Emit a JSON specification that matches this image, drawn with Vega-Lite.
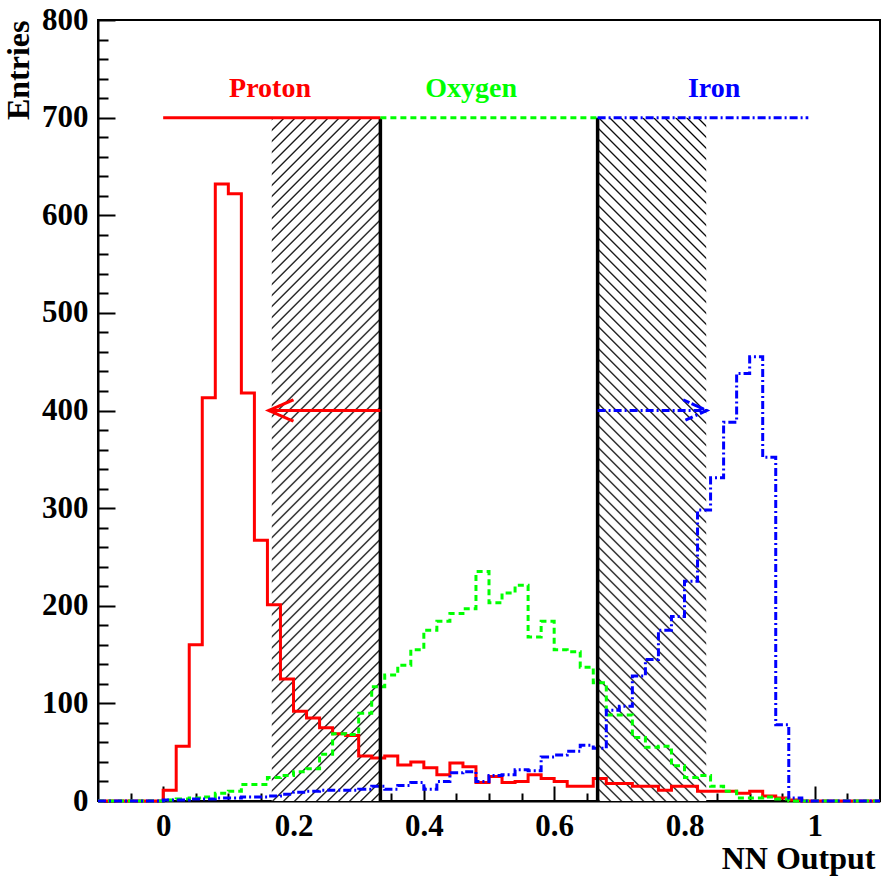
{
"$schema": "https://vega.github.io/schema/vega-lite/v6.json",
"width": 782, "height": 781,
"autosize": "none",
"padding": {"left": 98, "top": 20, "right": 3, "bottom": 79},
"background": "white",
"config": {"view": {"stroke": "black", "strokeWidth": 2}, "axis": {"grid": false, "zindex": 1}},
"resolve": {"axis": {"x": "independent", "y": "independent"}},
"datasets": {
"hist": [
{"x":-0.1,"proton":0,"oxygen":0,"iron":0},{"x":-0.08,"proton":0,"oxygen":0,"iron":0},{"x":-0.06,"proton":0,"oxygen":0,"iron":0},{"x":-0.04,"proton":0,"oxygen":0,"iron":0},{"x":-0.02,"proton":0,"oxygen":0,"iron":0},
{"x":0,"proton":11,"oxygen":1,"iron":1},{"x":0.02,"proton":56,"oxygen":2,"iron":1},{"x":0.04,"proton":160,"oxygen":3,"iron":2},{"x":0.06,"proton":413,"oxygen":4,"iron":2},{"x":0.08,"proton":632,"oxygen":8,"iron":3},
{"x":0.1,"proton":622,"oxygen":10,"iron":3},{"x":0.12,"proton":418,"oxygen":17,"iron":4},{"x":0.14,"proton":267,"oxygen":17,"iron":4},{"x":0.16,"proton":201,"oxygen":24,"iron":5},{"x":0.18,"proton":125,"oxygen":26,"iron":7},
{"x":0.2,"proton":92,"oxygen":30,"iron":9},{"x":0.22,"proton":85,"oxygen":33,"iron":10},{"x":0.24,"proton":75,"oxygen":48,"iron":11},{"x":0.26,"proton":69,"oxygen":69,"iron":11},{"x":0.28,"proton":67,"oxygen":68,"iron":11},
{"x":0.3,"proton":46,"oxygen":90,"iron":12},{"x":0.32,"proton":44,"oxygen":117,"iron":15},{"x":0.34,"proton":46,"oxygen":129,"iron":12},{"x":0.36,"proton":37,"oxygen":139,"iron":16},{"x":0.38,"proton":40,"oxygen":155,"iron":19},
{"x":0.4,"proton":34,"oxygen":175,"iron":12},{"x":0.42,"proton":27,"oxygen":184,"iron":20},{"x":0.44,"proton":39,"oxygen":192,"iron":29},{"x":0.46,"proton":35,"oxygen":197,"iron":30},{"x":0.48,"proton":19,"oxygen":235,"iron":20},
{"x":0.5,"proton":25,"oxygen":203,"iron":26},{"x":0.52,"proton":19,"oxygen":213,"iron":27},{"x":0.54,"proton":20,"oxygen":221,"iron":32},{"x":0.56,"proton":27,"oxygen":168,"iron":31},{"x":0.58,"proton":23,"oxygen":184,"iron":45},
{"x":0.6,"proton":20,"oxygen":155,"iron":47},{"x":0.62,"proton":15,"oxygen":153,"iron":51},{"x":0.64,"proton":15,"oxygen":137,"iron":57},{"x":0.66,"proton":23,"oxygen":121,"iron":54},{"x":0.68,"proton":18,"oxygen":88,"iron":93},
{"x":0.7,"proton":18,"oxygen":88,"iron":97},{"x":0.72,"proton":15,"oxygen":65,"iron":128},{"x":0.74,"proton":15,"oxygen":55,"iron":145},{"x":0.76,"proton":11,"oxygen":56,"iron":175},{"x":0.78,"proton":15,"oxygen":36,"iron":189},
{"x":0.8,"proton":15,"oxygen":24,"iron":225},{"x":0.82,"proton":10,"oxygen":26,"iron":298},{"x":0.84,"proton":10,"oxygen":15,"iron":331},{"x":0.86,"proton":10,"oxygen":10,"iron":388},{"x":0.88,"proton":8,"oxygen":3,"iron":438},
{"x":0.9,"proton":10,"oxygen":3,"iron":455},{"x":0.92,"proton":5,"oxygen":4,"iron":352},{"x":0.94,"proton":3,"oxygen":2,"iron":78},{"x":0.96,"proton":1,"oxygen":0,"iron":3},{"x":0.98,"proton":0,"oxygen":0,"iron":0},
{"x":1.0,"proton":0,"oxygen":0,"iron":0},{"x":1.02,"proton":0,"oxygen":0,"iron":0},{"x":1.04,"proton":0,"oxygen":0,"iron":0},{"x":1.06,"proton":0,"oxygen":0,"iron":0},{"x":1.08,"proton":0,"oxygen":0,"iron":0},{"x":1.1,"proton":0,"oxygen":0,"iron":0}
],
"hatchL": [{"x":0.16667,"x2":0.33333,"y":0,"y2":700}],
"hatchR": [{"x":0.66667,"x2":0.83333,"y":0,"y2":700}],
"cuts": [{"x":0.33333,"y":0,"y2":700},{"x":0.66667,"y":0,"y2":700}],
"tops": [{"s":"Proton","x":0,"x2":0.33333,"y":700},{"s":"Oxygen","x":0.33333,"x2":0.66667,"y":700},{"s":"Iron","x":0.66667,"x2":0.99,"y":700}],
"arrows": [
{"s":"Proton","o":1,"x":0.33333,"y":400},{"s":"Proton","o":2,"x":0.162,"y":400},{"s":"Proton","o":3,"x":0.2,"y":411},{"s":"Proton","o":4,"x":0.162,"y":400},{"s":"Proton","o":5,"x":0.2,"y":389},
{"s":"Iron","o":1,"x":0.66667,"y":400},{"s":"Iron","o":2,"x":0.834,"y":400},{"s":"Iron","o":3,"x":0.798,"y":411},{"s":"Iron","o":4,"x":0.834,"y":400},{"s":"Iron","o":5,"x":0.798,"y":389}
],
"labels": [{"s":"Proton","x":0.164,"y":721},{"s":"Oxygen","x":0.4726,"y":721},{"s":"Iron","x":0.8455,"y":721}]
},
"layer": [
{"data": {"name": "hatchL"},
 "mark": {"type": "rect", "strokeWidth": 0, "fill": {"gradient": "linear", "x1": 0, "y1": 0, "x2": 0.1796, "y2": 1.1304, "stops": [
{"offset":0,"color":"#fff"},{"offset":0.0022,"color":"#000"},{"offset":0.0044,"color":"#fff"},
{"offset":0.0139,"color":"#fff"},{"offset":0.0161,"color":"#000"},{"offset":0.0183,"color":"#fff"},
{"offset":0.0278,"color":"#fff"},{"offset":0.03,"color":"#000"},{"offset":0.0322,"color":"#fff"},
{"offset":0.0417,"color":"#fff"},{"offset":0.0439,"color":"#000"},{"offset":0.0461,"color":"#fff"},
{"offset":0.0556,"color":"#fff"},{"offset":0.0578,"color":"#000"},{"offset":0.06,"color":"#fff"},
{"offset":0.0695,"color":"#fff"},{"offset":0.0717,"color":"#000"},{"offset":0.0739,"color":"#fff"},
{"offset":0.0834,"color":"#fff"},{"offset":0.0856,"color":"#000"},{"offset":0.0878,"color":"#fff"},
{"offset":0.0973,"color":"#fff"},{"offset":0.0995,"color":"#000"},{"offset":0.1017,"color":"#fff"},
{"offset":0.1112,"color":"#fff"},{"offset":0.1134,"color":"#000"},{"offset":0.1156,"color":"#fff"},
{"offset":0.1251,"color":"#fff"},{"offset":0.1273,"color":"#000"},{"offset":0.1295,"color":"#fff"},
{"offset":0.139,"color":"#fff"},{"offset":0.1412,"color":"#000"},{"offset":0.1434,"color":"#fff"},
{"offset":0.1529,"color":"#fff"},{"offset":0.1551,"color":"#000"},{"offset":0.1573,"color":"#fff"},
{"offset":0.1668,"color":"#fff"},{"offset":0.169,"color":"#000"},{"offset":0.1712,"color":"#fff"},
{"offset":0.1807,"color":"#fff"},{"offset":0.1829,"color":"#000"},{"offset":0.1851,"color":"#fff"},
{"offset":0.1946,"color":"#fff"},{"offset":0.1968,"color":"#000"},{"offset":0.199,"color":"#fff"},
{"offset":0.2085,"color":"#fff"},{"offset":0.2107,"color":"#000"},{"offset":0.2129,"color":"#fff"},
{"offset":0.2224,"color":"#fff"},{"offset":0.2246,"color":"#000"},{"offset":0.2268,"color":"#fff"},
{"offset":0.2363,"color":"#fff"},{"offset":0.2385,"color":"#000"},{"offset":0.2407,"color":"#fff"},
{"offset":0.2502,"color":"#fff"},{"offset":0.2524,"color":"#000"},{"offset":0.2546,"color":"#fff"},
{"offset":0.2641,"color":"#fff"},{"offset":0.2663,"color":"#000"},{"offset":0.2685,"color":"#fff"},
{"offset":0.278,"color":"#fff"},{"offset":0.2802,"color":"#000"},{"offset":0.2824,"color":"#fff"},
{"offset":0.2919,"color":"#fff"},{"offset":0.2941,"color":"#000"},{"offset":0.2963,"color":"#fff"},
{"offset":0.3058,"color":"#fff"},{"offset":0.308,"color":"#000"},{"offset":0.3102,"color":"#fff"},
{"offset":0.3197,"color":"#fff"},{"offset":0.3219,"color":"#000"},{"offset":0.3241,"color":"#fff"},
{"offset":0.3336,"color":"#fff"},{"offset":0.3358,"color":"#000"},{"offset":0.338,"color":"#fff"},
{"offset":0.3475,"color":"#fff"},{"offset":0.3497,"color":"#000"},{"offset":0.3519,"color":"#fff"},
{"offset":0.3614,"color":"#fff"},{"offset":0.3636,"color":"#000"},{"offset":0.3658,"color":"#fff"},
{"offset":0.3753,"color":"#fff"},{"offset":0.3775,"color":"#000"},{"offset":0.3797,"color":"#fff"},
{"offset":0.3892,"color":"#fff"},{"offset":0.3914,"color":"#000"},{"offset":0.3936,"color":"#fff"},
{"offset":0.4031,"color":"#fff"},{"offset":0.4053,"color":"#000"},{"offset":0.4075,"color":"#fff"},
{"offset":0.417,"color":"#fff"},{"offset":0.4192,"color":"#000"},{"offset":0.4214,"color":"#fff"},
{"offset":0.4309,"color":"#fff"},{"offset":0.4331,"color":"#000"},{"offset":0.4353,"color":"#fff"},
{"offset":0.4448,"color":"#fff"},{"offset":0.447,"color":"#000"},{"offset":0.4492,"color":"#fff"},
{"offset":0.4587,"color":"#fff"},{"offset":0.4609,"color":"#000"},{"offset":0.4631,"color":"#fff"},
{"offset":0.4726,"color":"#fff"},{"offset":0.4748,"color":"#000"},{"offset":0.477,"color":"#fff"},
{"offset":0.4865,"color":"#fff"},{"offset":0.4887,"color":"#000"},{"offset":0.4909,"color":"#fff"},
{"offset":0.5004,"color":"#fff"},{"offset":0.5026,"color":"#000"},{"offset":0.5048,"color":"#fff"},
{"offset":0.5143,"color":"#fff"},{"offset":0.5165,"color":"#000"},{"offset":0.5187,"color":"#fff"},
{"offset":0.5282,"color":"#fff"},{"offset":0.5304,"color":"#000"},{"offset":0.5326,"color":"#fff"},
{"offset":0.5421,"color":"#fff"},{"offset":0.5443,"color":"#000"},{"offset":0.5465,"color":"#fff"},
{"offset":0.556,"color":"#fff"},{"offset":0.5582,"color":"#000"},{"offset":0.5604,"color":"#fff"},
{"offset":0.5699,"color":"#fff"},{"offset":0.5721,"color":"#000"},{"offset":0.5743,"color":"#fff"},
{"offset":0.5838,"color":"#fff"},{"offset":0.586,"color":"#000"},{"offset":0.5882,"color":"#fff"},
{"offset":0.5977,"color":"#fff"},{"offset":0.5999,"color":"#000"},{"offset":0.6021,"color":"#fff"},
{"offset":0.6116,"color":"#fff"},{"offset":0.6138,"color":"#000"},{"offset":0.616,"color":"#fff"},
{"offset":0.6255,"color":"#fff"},{"offset":0.6277,"color":"#000"},{"offset":0.6299,"color":"#fff"},
{"offset":0.6394,"color":"#fff"},{"offset":0.6416,"color":"#000"},{"offset":0.6438,"color":"#fff"},
{"offset":0.6533,"color":"#fff"},{"offset":0.6555,"color":"#000"},{"offset":0.6577,"color":"#fff"},
{"offset":0.6672,"color":"#fff"},{"offset":0.6694,"color":"#000"},{"offset":0.6716,"color":"#fff"},
{"offset":0.6811,"color":"#fff"},{"offset":0.6833,"color":"#000"},{"offset":0.6855,"color":"#fff"},
{"offset":0.695,"color":"#fff"},{"offset":0.6972,"color":"#000"},{"offset":0.6994,"color":"#fff"},
{"offset":0.7089,"color":"#fff"},{"offset":0.7111,"color":"#000"},{"offset":0.7133,"color":"#fff"},
{"offset":0.7228,"color":"#fff"},{"offset":0.725,"color":"#000"},{"offset":0.7272,"color":"#fff"},
{"offset":0.7367,"color":"#fff"},{"offset":0.7389,"color":"#000"},{"offset":0.7411,"color":"#fff"},
{"offset":0.7506,"color":"#fff"},{"offset":0.7528,"color":"#000"},{"offset":0.755,"color":"#fff"},
{"offset":0.7645,"color":"#fff"},{"offset":0.7667,"color":"#000"},{"offset":0.7689,"color":"#fff"},
{"offset":0.7784,"color":"#fff"},{"offset":0.7806,"color":"#000"},{"offset":0.7828,"color":"#fff"},
{"offset":0.7923,"color":"#fff"},{"offset":0.7945,"color":"#000"},{"offset":0.7967,"color":"#fff"},
{"offset":0.8062,"color":"#fff"},{"offset":0.8084,"color":"#000"},{"offset":0.8106,"color":"#fff"},
{"offset":0.8201,"color":"#fff"},{"offset":0.8223,"color":"#000"},{"offset":0.8245,"color":"#fff"},
{"offset":0.834,"color":"#fff"},{"offset":0.8362,"color":"#000"},{"offset":0.8384,"color":"#fff"},
{"offset":0.8479,"color":"#fff"},{"offset":0.8501,"color":"#000"},{"offset":0.8523,"color":"#fff"},
{"offset":0.8618,"color":"#fff"},{"offset":0.864,"color":"#000"},{"offset":0.8662,"color":"#fff"},
{"offset":0.8757,"color":"#fff"},{"offset":0.8779,"color":"#000"},{"offset":0.8801,"color":"#fff"},
{"offset":0.8896,"color":"#fff"},{"offset":0.8918,"color":"#000"},{"offset":0.894,"color":"#fff"},
{"offset":0.9035,"color":"#fff"},{"offset":0.9057,"color":"#000"},{"offset":0.9079,"color":"#fff"},
{"offset":0.9174,"color":"#fff"},{"offset":0.9196,"color":"#000"},{"offset":0.9218,"color":"#fff"},
{"offset":0.9313,"color":"#fff"},{"offset":0.9335,"color":"#000"},{"offset":0.9357,"color":"#fff"},
{"offset":0.9452,"color":"#fff"},{"offset":0.9474,"color":"#000"},{"offset":0.9496,"color":"#fff"},
{"offset":0.9591,"color":"#fff"},{"offset":0.9613,"color":"#000"},{"offset":0.9635,"color":"#fff"},
{"offset":0.973,"color":"#fff"},{"offset":0.9752,"color":"#000"},{"offset":0.9774,"color":"#fff"},
{"offset":0.9869,"color":"#fff"},{"offset":0.9891,"color":"#000"},{"offset":0.9913,"color":"#fff"}
]}},
 "encoding": {
  "x": {"field": "x", "type": "quantitative", "scale": {"domain": [-0.1, 1.1], "nice": false, "zero": false},
   "axis": {"orient": "bottom", "values": [0, 0.2, 0.4, 0.6, 0.8, 1], "format": "~g", "ticks": false, "tickSize": 0, "domain": true, "domainColor": "black", "domainWidth": 2,
    "labelFont": "Liberation Serif", "labelFontWeight": "bold", "labelFontSize": 31, "labelColor": "black", "labelBaseline": "alphabetic", "labelPadding": 34, "labelFlush": false, "labelOverlap": false,
    "title": "NN Output", "titleFont": "Liberation Serif", "titleFontWeight": "bold", "titleFontSize": 32, "titleColor": "black", "titleAnchor": "end", "titleAlign": "right", "titleBaseline": "alphabetic", "titleX": 777, "titleY": 67}},
  "x2": {"field": "x2"},
  "y": {"field": "y", "type": "quantitative", "scale": {"domain": [0, 800], "nice": false},
   "axis": {"orient": "left", "values": [0, 100, 200, 300, 400, 500, 600, 700, 800], "ticks": false, "tickSize": 0, "domain": true, "domainColor": "black", "domainWidth": 2,
    "labelFont": "Liberation Serif", "labelFontWeight": "bold", "labelFontSize": 31, "labelColor": "black", "labelAlign": "right", "labelBaseline": "middle", "labelPadding": 10, "labelFlush": false, "labelOverlap": false,
    "title": "Entries", "titleFont": "Liberation Serif", "titleFontWeight": "bold", "titleFontSize": 32, "titleColor": "black", "titleAngle": 270, "titleAlign": "right", "titleBaseline": "middle", "titleX": -80, "titleY": 0}},
  "y2": {"field": "y2"}
 }
},
{"data": {"name": "hatchR"},
 "mark": {"type": "rect", "strokeWidth": 0, "fill": {"gradient": "linear", "x1": 0, "y1": 1, "x2": 0.1796, "y2": -0.1304, "stops": [
{"offset":0,"color":"#fff"},{"offset":0.0022,"color":"#000"},{"offset":0.0044,"color":"#fff"},
{"offset":0.0139,"color":"#fff"},{"offset":0.0161,"color":"#000"},{"offset":0.0183,"color":"#fff"},
{"offset":0.0278,"color":"#fff"},{"offset":0.03,"color":"#000"},{"offset":0.0322,"color":"#fff"},
{"offset":0.0417,"color":"#fff"},{"offset":0.0439,"color":"#000"},{"offset":0.0461,"color":"#fff"},
{"offset":0.0556,"color":"#fff"},{"offset":0.0578,"color":"#000"},{"offset":0.06,"color":"#fff"},
{"offset":0.0695,"color":"#fff"},{"offset":0.0717,"color":"#000"},{"offset":0.0739,"color":"#fff"},
{"offset":0.0834,"color":"#fff"},{"offset":0.0856,"color":"#000"},{"offset":0.0878,"color":"#fff"},
{"offset":0.0973,"color":"#fff"},{"offset":0.0995,"color":"#000"},{"offset":0.1017,"color":"#fff"},
{"offset":0.1112,"color":"#fff"},{"offset":0.1134,"color":"#000"},{"offset":0.1156,"color":"#fff"},
{"offset":0.1251,"color":"#fff"},{"offset":0.1273,"color":"#000"},{"offset":0.1295,"color":"#fff"},
{"offset":0.139,"color":"#fff"},{"offset":0.1412,"color":"#000"},{"offset":0.1434,"color":"#fff"},
{"offset":0.1529,"color":"#fff"},{"offset":0.1551,"color":"#000"},{"offset":0.1573,"color":"#fff"},
{"offset":0.1668,"color":"#fff"},{"offset":0.169,"color":"#000"},{"offset":0.1712,"color":"#fff"},
{"offset":0.1807,"color":"#fff"},{"offset":0.1829,"color":"#000"},{"offset":0.1851,"color":"#fff"},
{"offset":0.1946,"color":"#fff"},{"offset":0.1968,"color":"#000"},{"offset":0.199,"color":"#fff"},
{"offset":0.2085,"color":"#fff"},{"offset":0.2107,"color":"#000"},{"offset":0.2129,"color":"#fff"},
{"offset":0.2224,"color":"#fff"},{"offset":0.2246,"color":"#000"},{"offset":0.2268,"color":"#fff"},
{"offset":0.2363,"color":"#fff"},{"offset":0.2385,"color":"#000"},{"offset":0.2407,"color":"#fff"},
{"offset":0.2502,"color":"#fff"},{"offset":0.2524,"color":"#000"},{"offset":0.2546,"color":"#fff"},
{"offset":0.2641,"color":"#fff"},{"offset":0.2663,"color":"#000"},{"offset":0.2685,"color":"#fff"},
{"offset":0.278,"color":"#fff"},{"offset":0.2802,"color":"#000"},{"offset":0.2824,"color":"#fff"},
{"offset":0.2919,"color":"#fff"},{"offset":0.2941,"color":"#000"},{"offset":0.2963,"color":"#fff"},
{"offset":0.3058,"color":"#fff"},{"offset":0.308,"color":"#000"},{"offset":0.3102,"color":"#fff"},
{"offset":0.3197,"color":"#fff"},{"offset":0.3219,"color":"#000"},{"offset":0.3241,"color":"#fff"},
{"offset":0.3336,"color":"#fff"},{"offset":0.3358,"color":"#000"},{"offset":0.338,"color":"#fff"},
{"offset":0.3475,"color":"#fff"},{"offset":0.3497,"color":"#000"},{"offset":0.3519,"color":"#fff"},
{"offset":0.3614,"color":"#fff"},{"offset":0.3636,"color":"#000"},{"offset":0.3658,"color":"#fff"},
{"offset":0.3753,"color":"#fff"},{"offset":0.3775,"color":"#000"},{"offset":0.3797,"color":"#fff"},
{"offset":0.3892,"color":"#fff"},{"offset":0.3914,"color":"#000"},{"offset":0.3936,"color":"#fff"},
{"offset":0.4031,"color":"#fff"},{"offset":0.4053,"color":"#000"},{"offset":0.4075,"color":"#fff"},
{"offset":0.417,"color":"#fff"},{"offset":0.4192,"color":"#000"},{"offset":0.4214,"color":"#fff"},
{"offset":0.4309,"color":"#fff"},{"offset":0.4331,"color":"#000"},{"offset":0.4353,"color":"#fff"},
{"offset":0.4448,"color":"#fff"},{"offset":0.447,"color":"#000"},{"offset":0.4492,"color":"#fff"},
{"offset":0.4587,"color":"#fff"},{"offset":0.4609,"color":"#000"},{"offset":0.4631,"color":"#fff"},
{"offset":0.4726,"color":"#fff"},{"offset":0.4748,"color":"#000"},{"offset":0.477,"color":"#fff"},
{"offset":0.4865,"color":"#fff"},{"offset":0.4887,"color":"#000"},{"offset":0.4909,"color":"#fff"},
{"offset":0.5004,"color":"#fff"},{"offset":0.5026,"color":"#000"},{"offset":0.5048,"color":"#fff"},
{"offset":0.5143,"color":"#fff"},{"offset":0.5165,"color":"#000"},{"offset":0.5187,"color":"#fff"},
{"offset":0.5282,"color":"#fff"},{"offset":0.5304,"color":"#000"},{"offset":0.5326,"color":"#fff"},
{"offset":0.5421,"color":"#fff"},{"offset":0.5443,"color":"#000"},{"offset":0.5465,"color":"#fff"},
{"offset":0.556,"color":"#fff"},{"offset":0.5582,"color":"#000"},{"offset":0.5604,"color":"#fff"},
{"offset":0.5699,"color":"#fff"},{"offset":0.5721,"color":"#000"},{"offset":0.5743,"color":"#fff"},
{"offset":0.5838,"color":"#fff"},{"offset":0.586,"color":"#000"},{"offset":0.5882,"color":"#fff"},
{"offset":0.5977,"color":"#fff"},{"offset":0.5999,"color":"#000"},{"offset":0.6021,"color":"#fff"},
{"offset":0.6116,"color":"#fff"},{"offset":0.6138,"color":"#000"},{"offset":0.616,"color":"#fff"},
{"offset":0.6255,"color":"#fff"},{"offset":0.6277,"color":"#000"},{"offset":0.6299,"color":"#fff"},
{"offset":0.6394,"color":"#fff"},{"offset":0.6416,"color":"#000"},{"offset":0.6438,"color":"#fff"},
{"offset":0.6533,"color":"#fff"},{"offset":0.6555,"color":"#000"},{"offset":0.6577,"color":"#fff"},
{"offset":0.6672,"color":"#fff"},{"offset":0.6694,"color":"#000"},{"offset":0.6716,"color":"#fff"},
{"offset":0.6811,"color":"#fff"},{"offset":0.6833,"color":"#000"},{"offset":0.6855,"color":"#fff"},
{"offset":0.695,"color":"#fff"},{"offset":0.6972,"color":"#000"},{"offset":0.6994,"color":"#fff"},
{"offset":0.7089,"color":"#fff"},{"offset":0.7111,"color":"#000"},{"offset":0.7133,"color":"#fff"},
{"offset":0.7228,"color":"#fff"},{"offset":0.725,"color":"#000"},{"offset":0.7272,"color":"#fff"},
{"offset":0.7367,"color":"#fff"},{"offset":0.7389,"color":"#000"},{"offset":0.7411,"color":"#fff"},
{"offset":0.7506,"color":"#fff"},{"offset":0.7528,"color":"#000"},{"offset":0.755,"color":"#fff"},
{"offset":0.7645,"color":"#fff"},{"offset":0.7667,"color":"#000"},{"offset":0.7689,"color":"#fff"},
{"offset":0.7784,"color":"#fff"},{"offset":0.7806,"color":"#000"},{"offset":0.7828,"color":"#fff"},
{"offset":0.7923,"color":"#fff"},{"offset":0.7945,"color":"#000"},{"offset":0.7967,"color":"#fff"},
{"offset":0.8062,"color":"#fff"},{"offset":0.8084,"color":"#000"},{"offset":0.8106,"color":"#fff"},
{"offset":0.8201,"color":"#fff"},{"offset":0.8223,"color":"#000"},{"offset":0.8245,"color":"#fff"},
{"offset":0.834,"color":"#fff"},{"offset":0.8362,"color":"#000"},{"offset":0.8384,"color":"#fff"},
{"offset":0.8479,"color":"#fff"},{"offset":0.8501,"color":"#000"},{"offset":0.8523,"color":"#fff"},
{"offset":0.8618,"color":"#fff"},{"offset":0.864,"color":"#000"},{"offset":0.8662,"color":"#fff"},
{"offset":0.8757,"color":"#fff"},{"offset":0.8779,"color":"#000"},{"offset":0.8801,"color":"#fff"},
{"offset":0.8896,"color":"#fff"},{"offset":0.8918,"color":"#000"},{"offset":0.894,"color":"#fff"},
{"offset":0.9035,"color":"#fff"},{"offset":0.9057,"color":"#000"},{"offset":0.9079,"color":"#fff"},
{"offset":0.9174,"color":"#fff"},{"offset":0.9196,"color":"#000"},{"offset":0.9218,"color":"#fff"},
{"offset":0.9313,"color":"#fff"},{"offset":0.9335,"color":"#000"},{"offset":0.9357,"color":"#fff"},
{"offset":0.9452,"color":"#fff"},{"offset":0.9474,"color":"#000"},{"offset":0.9496,"color":"#fff"},
{"offset":0.9591,"color":"#fff"},{"offset":0.9613,"color":"#000"},{"offset":0.9635,"color":"#fff"},
{"offset":0.973,"color":"#fff"},{"offset":0.9752,"color":"#000"},{"offset":0.9774,"color":"#fff"},
{"offset":0.9869,"color":"#fff"},{"offset":0.9891,"color":"#000"},{"offset":0.9913,"color":"#fff"}
]}},
 "encoding": {
  "x": {"field": "x", "type": "quantitative", "scale": {"domain": [-0.1, 1.1], "nice": false, "zero": false},
   "axis": {"orient": "top", "offset": -781, "values": [0, 0.2, 0.4, 0.6, 0.8, 1], "labels": false, "domain": false, "ticks": true, "tickSize": 15, "tickWidth": 2, "tickColor": "black", "title": null}},
  "x2": {"field": "x2"},
  "y": {"field": "y", "type": "quantitative", "scale": {"domain": [0, 800], "nice": false},
   "axis": {"orient": "right", "offset": -782, "values": [0, 100, 200, 300, 400, 500, 600, 700, 800], "labels": false, "domain": false, "ticks": true, "tickSize": 17, "tickWidth": 2, "tickColor": "black", "title": null}},
  "y2": {"field": "y2"}
 }
},
{"data": {"name": "hist"},
 "mark": {"type": "line", "interpolate": "step-after", "color": "#ff0000", "strokeWidth": 3},
 "encoding": {
  "x": {"field": "x", "type": "quantitative", "scale": {"domain": [-0.1, 1.1], "nice": false, "zero": false},
   "axis": {"orient": "top", "offset": -781, "values": [-0.05, 0.05, 0.1, 0.15, 0.25, 0.3, 0.35, 0.45, 0.5, 0.55, 0.65, 0.7, 0.75, 0.85, 0.9, 0.95, 1.05], "labels": false, "domain": false, "ticks": true, "tickSize": 8, "tickWidth": 2, "tickColor": "black", "title": null}},
  "y": {"field": "proton", "type": "quantitative", "scale": {"domain": [0, 800], "nice": false},
   "axis": {"orient": "right", "offset": -782, "values": [20, 40, 60, 80, 120, 140, 160, 180, 220, 240, 260, 280, 320, 340, 360, 380, 420, 440, 460, 480, 520, 540, 560, 580, 620, 640, 660, 680, 720, 740, 760, 780], "labels": false, "domain": false, "ticks": true, "tickSize": 10, "tickWidth": 2, "tickColor": "black", "title": null}}
 }
},
{"data": {"name": "hist"},
 "mark": {"type": "line", "interpolate": "step-after", "color": "#00ff00", "strokeWidth": 3, "strokeDash": [6, 4]},
 "encoding": {
  "x": {"field": "x", "type": "quantitative", "scale": {"domain": [-0.1, 1.1], "nice": false, "zero": false}, "axis": null},
  "y": {"field": "oxygen", "type": "quantitative", "scale": {"domain": [0, 800], "nice": false}, "axis": null}
 }
},
{"data": {"name": "hist"},
 "mark": {"type": "line", "interpolate": "step-after", "color": "#0000ff", "strokeWidth": 3, "strokeDash": [8, 3, 2, 3]},
 "encoding": {
  "x": {"field": "x", "type": "quantitative", "scale": {"domain": [-0.1, 1.1], "nice": false, "zero": false}, "axis": null},
  "y": {"field": "iron", "type": "quantitative", "scale": {"domain": [0, 800], "nice": false}, "axis": null}
 }
},
{"data": {"name": "cuts"},
 "mark": {"type": "rule", "color": "black", "strokeWidth": 3.5},
 "encoding": {
  "x": {"field": "x", "type": "quantitative", "scale": {"domain": [-0.1, 1.1], "nice": false, "zero": false}, "axis": null},
  "y": {"field": "y", "type": "quantitative", "scale": {"domain": [0, 800], "nice": false}, "axis": null},
  "y2": {"field": "y2"}
 }
},
{"data": {"name": "tops"},
 "mark": {"type": "rule", "strokeWidth": 3},
 "encoding": {
  "x": {"field": "x", "type": "quantitative", "scale": {"domain": [-0.1, 1.1], "nice": false, "zero": false}, "axis": null},
  "x2": {"field": "x2"},
  "y": {"field": "y", "type": "quantitative", "scale": {"domain": [0, 800], "nice": false}, "axis": null},
  "color": {"field": "s", "type": "nominal", "scale": {"domain": ["Proton", "Oxygen", "Iron"], "range": ["#ff0000", "#00ff00", "#0000ff"]}, "legend": null},
  "strokeDash": {"field": "s", "type": "nominal", "scale": {"domain": ["Proton", "Oxygen", "Iron"], "range": [[1, 0], [6, 4], [8, 3, 2, 3]]}, "legend": null}
 }
},
{"data": {"name": "arrows"},
 "mark": {"type": "line", "strokeWidth": 3},
 "encoding": {
  "x": {"field": "x", "type": "quantitative", "scale": {"domain": [-0.1, 1.1], "nice": false, "zero": false}, "axis": null},
  "y": {"field": "y", "type": "quantitative", "scale": {"domain": [0, 800], "nice": false}, "axis": null},
  "order": {"field": "o", "type": "quantitative"},
  "detail": {"field": "s", "type": "nominal"},
  "color": {"field": "s", "type": "nominal", "scale": {"domain": ["Proton", "Oxygen", "Iron"], "range": ["#ff0000", "#00ff00", "#0000ff"]}, "legend": null},
  "strokeDash": {"field": "s", "type": "nominal", "scale": {"domain": ["Proton", "Oxygen", "Iron"], "range": [[1, 0], [6, 4], [8, 3, 2, 3]]}, "legend": null}
 }
},
{"data": {"name": "labels"},
 "mark": {"type": "text", "font": "Liberation Serif", "fontWeight": "bold", "fontSize": 28, "align": "center", "baseline": "alphabetic"},
 "encoding": {
  "x": {"field": "x", "type": "quantitative", "scale": {"domain": [-0.1, 1.1], "nice": false, "zero": false}, "axis": null},
  "y": {"field": "y", "type": "quantitative", "scale": {"domain": [0, 800], "nice": false}, "axis": null},
  "text": {"field": "s"},
  "color": {"field": "s", "type": "nominal", "scale": {"domain": ["Proton", "Oxygen", "Iron"], "range": ["#ff0000", "#00ff00", "#0000ff"]}, "legend": null}
 }
}
]
}
